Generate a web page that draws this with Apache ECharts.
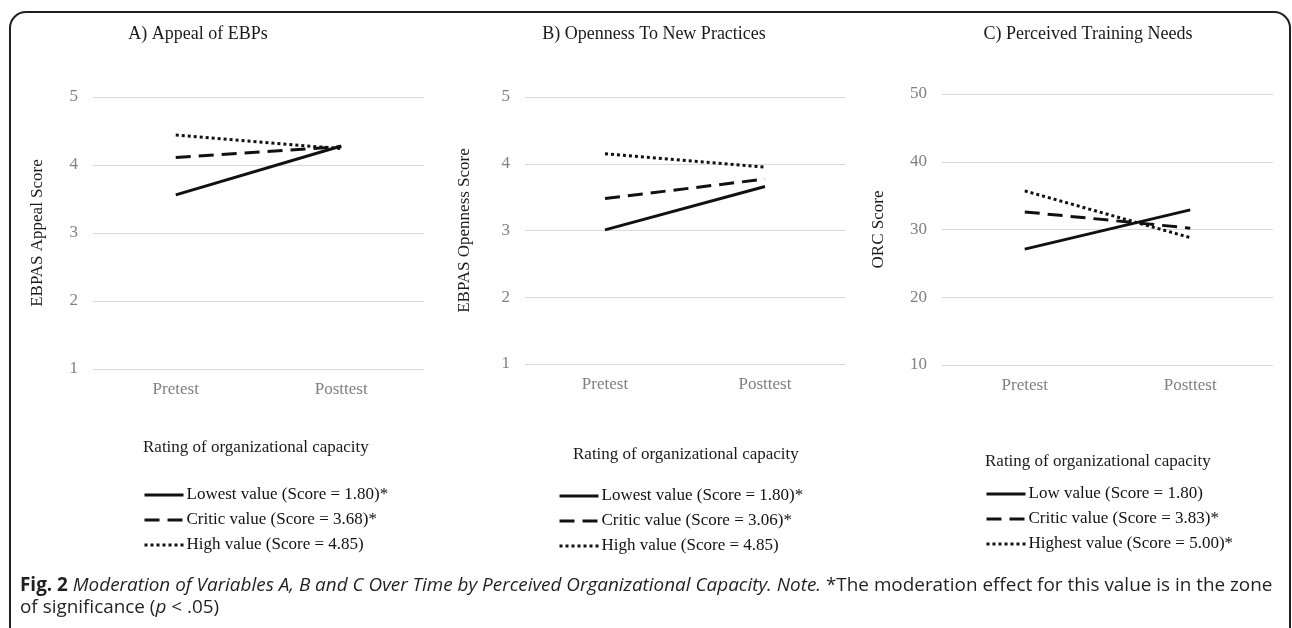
<!DOCTYPE html>
<html>
<head>
<meta charset="utf-8">
<script src="https://cdn.jsdelivr.net/npm/echarts@6/dist/echarts.min.js"></script>
<style>
html,body{margin:0;padding:0;background:#fff;}
#chart{width:1292px;height:628px;}
</style>
</head>
<body>
<div id="chart"></div>
<script>
// ---- data ----
var categories = ['Pretest', 'Posttest'];

var panelTitles = ['A) Appeal of EBPs', 'B) Openness To New Practices', 'C) Perceived Training Needs'];
var axisNames = ['EBPAS Appeal Score', 'EBPAS Openness Score', 'ORC Score'];
var legendHeader = 'Rating of organizational capacity';

var namesA = ['Lowest value (Score = 1.80)*', 'Critic value (Score = 3.68)*', 'High value (Score = 4.85)'];
var namesB = ['Lowest value (Score = 1.80)*', 'Critic value (Score = 3.06)*', 'High value (Score = 4.85)'];
var namesC = ['Low value (Score = 1.80)', 'Critic value (Score = 3.83)*', 'Highest value (Score = 5.00)*'];

var lowA = [3.56, 4.28];
var criticA = [4.11, 4.27];
var highA = [4.44, 4.24];

var lowB = [3.01, 3.66];
var criticB = [3.48, 3.77];
var highB = [4.15, 3.95];

var lowC = [27.1, 32.9];
var criticC = [32.6, 30.2];
var highC = [35.7, 28.8];

var yRangeAB = [1, 5, 1];
var yRangeC = [10, 50, 10];

// ---- layout / style ----
var SERIF = 'Liberation Serif';
var SANS = 'Open Sans';
var CAP = 18.9;
var grids = [
  {left: 93, top: 97, width: 331, height: 272},
  {left: 525, top: 97, width: 320, height: 267},
  {left: 942, top: 94, width: 331, height: 271}
];
var nameGaps = [47, 52, 55];
var titleX = [198, 654, 1088];
var headerPos = [[143, 439], [573, 446], [985, 453]];
var legendPos = [[143, 485], [558, 486], [985, 484]];
var lineTypes = ['solid', [15, 8], [3, 3]];

var chart = echarts.init(document.getElementById('chart'));

var xAxes = [], yAxes = [], series = [], legends = [], titles = [];
var panelNames = [namesA, namesB, namesC];
var panelData = [[lowA, criticA, highA], [lowB, criticB, highB], [lowC, criticC, highC]];
var ranges = [yRangeAB, yRangeAB, yRangeC];

for (var p = 0; p < 3; p++) {
  xAxes.push({
    type: 'category', gridIndex: p, data: categories, boundaryGap: true,
    axisLine: {show: false}, axisTick: {show: false},
    axisLabel: {color: '#808080', fontFamily: SERIF, fontSize: 17, margin: 12}
  });
  yAxes.push({
    type: 'value', gridIndex: p, min: ranges[p][0], max: ranges[p][1], interval: ranges[p][2],
    name: axisNames[p], nameLocation: 'middle', nameGap: nameGaps[p], nameRotate: 90,
    nameTextStyle: {color: '#1a1a1a', fontFamily: SERIF, fontSize: 17},
    axisLine: {show: false}, axisTick: {show: false},
    axisLabel: {color: '#808080', fontFamily: SERIF, fontSize: 17, margin: 15},
    splitLine: {lineStyle: {color: '#d9d9d9', width: 1}}
  });
  for (var s = 0; s < 3; s++) {
    series.push({
      type: 'line', name: panelNames[p][s], xAxisIndex: p, yAxisIndex: p,
      data: panelData[p][s], symbol: 'none', silent: true,
      lineStyle: {color: '#111', width: 3, type: lineTypes[s], cap: 'butt'},
      itemStyle: {color: '#111'}, z: 3 - s
    });
  }
  legends.push({
    data: panelNames[p], orient: 'vertical', left: legendPos[p][0], top: legendPos[p][1],
    padding: 0, itemWidth: 39, itemHeight: 14, itemGap: 5, selectedMode: false,
    itemStyle: {opacity: 0, borderWidth: 0},
    lineStyle: {width: 3},
    textStyle: {fontFamily: SERIF, fontSize: 17, color: '#111', lineHeight: 20, padding: [0, 0, 0, -2]}
  });
  titles.push({
    text: panelTitles[p], left: titleX[p], top: 25, textAlign: 'center', padding: 0,
    textStyle: {fontFamily: SERIF, fontSize: 18, fontWeight: 'normal', color: '#1a1a1a'}
  });
  titles.push({
    text: legendHeader, left: headerPos[p][0], top: headerPos[p][1], padding: 0,
    textStyle: {fontFamily: SERIF, fontSize: 17, fontWeight: 'normal', color: '#1a1a1a'}
  });
}

var option = {
  backgroundColor: '#fff',
  animation: false,
  title: titles,
  grid: grids,
  xAxis: xAxes,
  yAxis: yAxes,
  legend: legends,
  series: series,
  graphic: [
    {
      type: 'rect', silent: true, z: -1,
      shape: {x: 10, y: 12, width: 1280, height: 720, r: 16},
      style: {fill: 'none', stroke: '#231f20', lineWidth: 2}
    },
    {
      type: 'text', left: 20, top: 575, silent: true,
      style: {
        text: '{b|Fig. 2} {i|Moderation of Variables A, B and C Over Time by Perceived Organizational Capacity. Note.} {r|*The moderation effect for this value is in the zone}\n{r|of significance (}{i|p}{r| < .05)}',
        fill: '#231f20',
        fontFamily: SANS, fontSize: CAP, lineHeight: 22,
        rich: {
          b: {fontFamily: SANS, fontSize: CAP, fontWeight: 'bold', fill: '#231f20', lineHeight: 22},
          i: {fontFamily: SANS, fontSize: CAP, fontStyle: 'italic', fill: '#231f20', lineHeight: 22},
          r: {fontFamily: SANS, fontSize: CAP, fill: '#231f20', lineHeight: 22}
        }
      }
    }
  ]
};
chart.setOption(option);
</script>
</body>
</html>
